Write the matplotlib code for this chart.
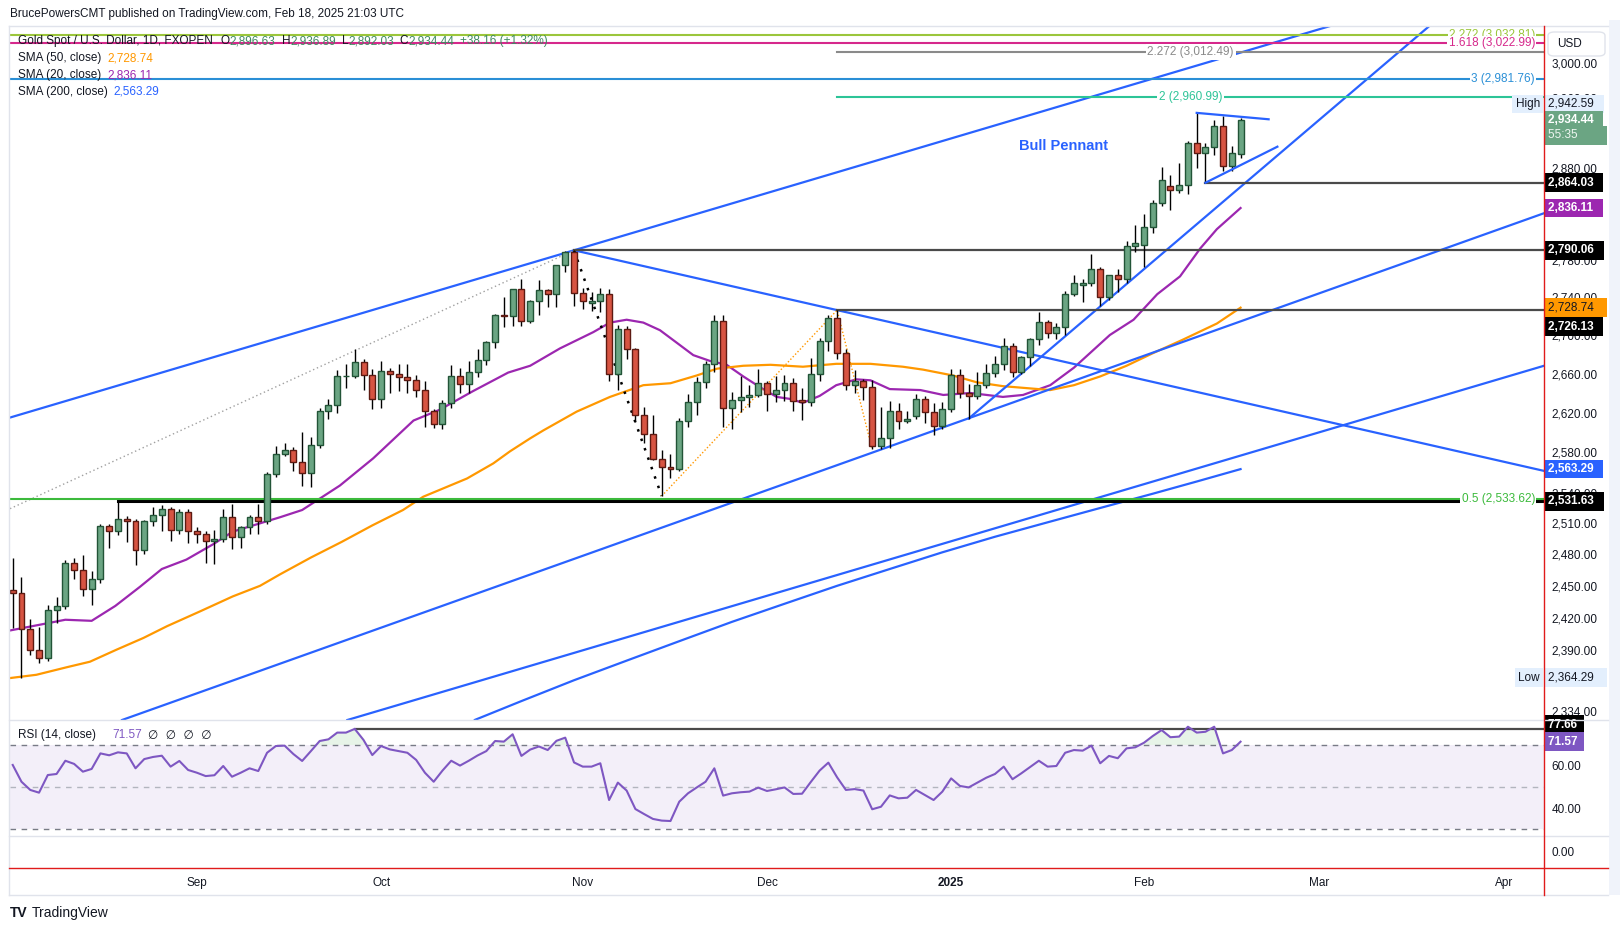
import numpy as np
import pandas as pd
import matplotlib
matplotlib.use("Agg")
import matplotlib.pyplot as plt
from matplotlib.transforms import blended_transform_factory
from matplotlib.ticker import NullLocator, NullFormatter, FuncFormatter
from matplotlib.lines import Line2D
from matplotlib.patches import Rectangle, FancyBboxPatch

plt.rcParams['font.family'] = ['Liberation Sans', 'DejaVu Sans']

# ---------------- data ----------------
# trading calendar (FXOPEN gold, no bar on Dec 25 / Jan 1), extended into the future for the time axis
holidays = pd.to_datetime(['2024-12-25', '2025-01-01'])
dates = pd.bdate_range('2024-08-02', '2025-04-30')
dates = dates[~dates.isin(holidays)]

opens = np.array([
    2446, 2443, 2409, 2390, 2382, 2427, 2431, 2472, 2465, 2447, 2456, 2507, 2503, 2514, 2512, 2484, 2512, 2518, 2524, 2504, 2521,
    2503, 2500, 2493, 2495, 2516, 2497, 2506, 2516, 2512, 2558, 2578, 2582, 2570, 2559, 2587, 2622, 2628, 2657, 2657, 2672, 2658,
    2634, 2663, 2659, 2656, 2653, 2643, 2622, 2608, 2630, 2657, 2649, 2662, 2674, 2693, 2721, 2720, 2748, 2715, 2736, 2747, 2743, 2774, 2788,
    2744, 2734, 2736, 2743, 2659, 2706, 2685, 2618, 2598, 2573, 2565, 2563, 2612, 2631, 2651, 2670, 2715, 2625, 2633, 2636, 2638,
    2650, 2639, 2643, 2650, 2633, 2631, 2660, 2694, 2718, 2681, 2648, 2652, 2646, 2586, 2594, 2622, 2612, 2617, 2634, 2621, 2606,
    2624, 2658, 2640, 2637, 2648, 2661, 2670, 2689, 2662, 2677, 2696, 2714, 2702, 2708, 2743, 2753, 2755, 2770, 2740, 2763, 2759, 2795,
    2796, 2815, 2842, 2860, 2856, 2861, 2908, 2897, 2904, 2928, 2883, 2896.63])
highs = np.array([
    2477, 2458, 2419, 2411, 2432, 2439, 2475, 2477, 2479, 2464, 2509, 2509, 2531.63, 2517, 2514, 2513, 2526, 2528, 2526, 2524, 2524,
    2506, 2503, 2504, 2524, 2529, 2507, 2518, 2529, 2560, 2586, 2589, 2585, 2600, 2595, 2625, 2634, 2664, 2670, 2685, 2675, 2665,
    2673, 2666, 2670, 2670, 2658, 2652, 2624, 2633, 2669, 2666, 2673, 2685, 2694, 2722, 2740, 2749, 2759, 2737, 2758, 2749, 2774, 2789, 2790.06,
    2750, 2745, 2750, 2749, 2710, 2709, 2686, 2626, 2618, 2582, 2578, 2615, 2639, 2656, 2673, 2721, 2721, 2641, 2657, 2648, 2665,
    2652, 2657, 2658, 2655, 2645, 2676, 2697, 2721, 2726.13, 2685, 2664, 2654, 2653, 2626, 2632, 2630, 2622, 2639, 2637, 2630, 2631,
    2665, 2665, 2649, 2662, 2670, 2678, 2697, 2692, 2678, 2697, 2724, 2716, 2713, 2746, 2763, 2759, 2786, 2772, 2764, 2770, 2800, 2817,
    2830, 2845, 2882, 2873, 2886, 2911, 2942.59, 2909, 2935, 2939, 2905, 2936.89])
lows = np.array([
    2410, 2364.29, 2385, 2378, 2380, 2415, 2428, 2456, 2440, 2432, 2453, 2486, 2499, 2492, 2470, 2480, 2507, 2503, 2493, 2500, 2491,
    2491, 2472, 2471, 2492, 2485, 2486, 2500, 2500, 2509, 2555, 2576, 2561, 2547, 2546, 2584, 2614, 2620, 2645, 2655, 2643, 2624,
    2625, 2640, 2642, 2640, 2636, 2605, 2604, 2603, 2625, 2640, 2640, 2656, 2669, 2686, 2708, 2709, 2709, 2713, 2721, 2729, 2729, 2767, 2730,
    2727, 2725, 2724, 2652, 2643, 2675, 2610, 2589, 2572, 2536.7, 2554, 2561, 2605, 2618, 2645, 2662, 2605, 2603, 2621, 2626, 2636,
    2622, 2631, 2632, 2622, 2613, 2627, 2652, 2683, 2675, 2643, 2640, 2633, 2583, 2583, 2584, 2603, 2609, 2614, 2609, 2597, 2603,
    2621, 2635, 2614, 2634, 2645, 2656, 2664, 2656, 2660, 2668, 2690, 2697, 2696, 2700, 2741, 2735, 2752, 2730, 2737, 2745, 2755, 2788,
    2772, 2809, 2838, 2834, 2853, 2852, 2880, 2864.03, 2895, 2877, 2877, 2892.03])
closes = np.array([
    2443, 2409, 2390, 2382, 2427, 2431, 2472, 2465, 2447, 2456, 2507, 2503, 2514, 2512, 2484, 2512, 2518, 2524, 2504, 2521, 2503,
    2500, 2493, 2495, 2516, 2497, 2506, 2516, 2512, 2558, 2578, 2582, 2570, 2559, 2587, 2622, 2628, 2657, 2657, 2672, 2658, 2634,
    2663, 2659, 2656, 2653, 2643, 2622, 2608, 2630, 2657, 2649, 2662, 2674, 2693, 2721, 2720, 2748, 2715, 2736, 2747, 2743, 2774, 2788, 2744,
    2736, 2736, 2743, 2659, 2706, 2685, 2618, 2598, 2573, 2565, 2563, 2612, 2631, 2651, 2670, 2715, 2625, 2633, 2636, 2638, 2650,
    2639, 2643, 2650, 2632, 2631, 2660, 2694, 2718, 2681, 2648, 2652, 2646, 2586, 2594, 2622, 2612, 2614, 2634, 2621, 2606, 2624,
    2658, 2640, 2637, 2648, 2661, 2670, 2689, 2662, 2677, 2696, 2714, 2702, 2708, 2743, 2755, 2755, 2770, 2740, 2763, 2759, 2795, 2798,
    2815, 2842, 2867, 2856, 2861, 2908, 2897, 2904, 2928, 2883, 2897, 2934.44])

rsi = np.array([
    60.5, 52.5, 48.6, 47.3, 55.7, 56.2, 62.5, 61.0, 57.3, 58.6, 66.0, 65.1, 66.5, 66.0, 58.9, 63.3, 64.3, 64.9, 59.7, 62.4, 58.1,
    56.8, 55.2, 55.6, 60.0, 54.9, 56.8, 58.9, 57.6, 66.3, 69.5, 69.7, 65.7, 62.4, 67.1, 71.9, 72.7, 75.9, 75.9, 77.66, 72.4, 65.2,
    69.5, 67.9, 67.1, 66.3, 62.9, 56.8, 52.5, 57.8, 62.5, 60.2, 62.5, 65.0, 67.1, 71.9, 71.6, 75.1, 64.8, 67.8, 69.3, 67.6, 72.0, 73.5, 61.7,
    59.7, 59.7, 61.3, 43.8, 52.1, 48.3, 39.5, 37.1, 34.8, 34.0, 33.8, 43.0, 47.0, 49.8, 52.5, 58.9, 45.9, 47.0, 47.5, 47.8, 49.7,
    48.1, 48.9, 49.8, 46.7, 46.8, 52.4, 57.8, 61.6, 54.6, 48.6, 49.0, 48.3, 39.4, 40.6, 46.0, 44.6, 44.9, 48.6, 46.2, 43.8, 47.8,
    54.1, 50.5, 49.8, 52.1, 54.4, 56.2, 59.7, 53.7, 56.5, 59.5, 62.5, 59.7, 60.0, 66.3, 67.6, 67.3, 69.7, 61.3, 64.8, 63.7, 68.4, 68.9,
    71.1, 74.3, 77.1, 73.7, 74.0, 78.7, 75.9, 76.3, 78.7, 66.0, 67.6, 71.57])

# moving averages (bar position, value)
sma20_x = [-0.3, 3.5, 6, 9, 11.7, 14.5, 17, 19.8, 22.9, 25.1, 27.8, 30.5, 33, 37.3, 41.1, 45.7, 48.7, 52.5, 56.5, 59,
           62.4, 66.2, 68.1, 70, 71.9, 73.8, 75.7, 77.6, 79.5, 81.4, 83.3, 85.2, 87.1, 88.6, 90.1, 92, 93.9, 96.2, 97.8,
           100, 103.5, 106.1, 109.2, 112.9, 115.2, 118.3, 121, 125.1, 127.8, 130.5, 133.1, 135.4, 137.3, 140]
sma20_y = [2408, 2414, 2418, 2417, 2431, 2449, 2466, 2475, 2490, 2502, 2509, 2516, 2523, 2547, 2574, 2612, 2623, 2642, 2661, 2668,
           2686, 2703, 2713, 2716, 2713, 2705, 2692, 2679, 2673, 2669, 2657, 2646, 2636, 2634, 2630, 2637, 2648, 2654, 2653,
           2644, 2643, 2638, 2640, 2636, 2638, 2648, 2666, 2700, 2716, 2743, 2762, 2792, 2813, 2836.11]
sma50_x = [-0.3, 2.7, 6.2, 8.8, 11.8, 14.9, 17.6, 21.4, 25.1, 28.2, 30.5, 34, 37.5, 41, 44.5, 46.8, 51.8, 54.8, 56.7, 59,
           60.5, 64.3, 68.1, 71.9, 75, 78, 80.3, 83.3, 86.4, 90.1, 93.9, 97.8, 101.5, 103.8, 107.2, 109.9, 112.9, 118.3,
           121, 124, 127, 130, 133.4, 137.3, 140]
sma50_y = [2364, 2367, 2374, 2379, 2390, 2401, 2412, 2426, 2440, 2450, 2461, 2477, 2492, 2508, 2523, 2536, 2554, 2569, 2581, 2594,
           2602, 2621, 2636, 2648, 2650, 2658, 2665, 2668, 2669, 2667, 2670, 2670, 2667, 2664, 2658, 2651, 2647, 2643,
           2648, 2657, 2668, 2681, 2695, 2712, 2728.74]
sma200_x = [52.7, 58, 64, 70, 76, 82, 88, 94, 100, 106, 112, 118, 124, 130, 135, 140]
sma200_y = [2326, 2343, 2362, 2380, 2398, 2416, 2433, 2450, 2466, 2482, 2497, 2511, 2525, 2539, 2551, 2563.29]

# horizontal levels (start bar, price)
levels = [(136, 2864.03), (64, 2790.06), (94, 2726.13)]
support_level = (12, 2531.63)
# fib levels: (price, label, colour, start bar, label placement)
fibs = [(3032.81, '2.272 (3,032.81)', '#9bc63b', None, 'right'),
        (3022.99, '1.618 (3,022.99)', '#d6288c', None, 'right'),
        (3012.49, '2.272 (3,012.49)', '#8a8a8a', 94, 'center'),
        (2981.76, '3 (2,981.76)', '#2a8fd6', None, 'right'),
        (2960.99, '2 (2,960.99)', '#2cc497', 94, 'center'),
        (2533.62, '0.5 (2,533.62)', '#3cba3c', None, 'right')]

# trend lines as pairs of anchors (bar, price)
channel_top = [(-0.31, 2615), (64, 2790.06)]
channel_mid = [(12.5, 2326), (174.6, 2830.4)]
channel_low = [(38.2, 2326), (174.6, 2668)]
down_line = [(64, 2790.06), (94, 2726.13)]
steep_line = [(109, 2614), (124, 2730)]
pennant_top = [(135, 2942.59), (143.2, 2935.3)]
pennant_bot = [(136, 2864.03), (144.2, 2904.3)]
gray_dots = [(-0.31, 2524.3), (64, 2790.06)]
black_dots = [(64, 2790.06), (74, 2536.7)]
orange_dots = [(74, 2536.7), (94, 2726.13), (98, 2583)]

price_ticks = [3000, 2960, 2880, 2780, 2740, 2700, 2660, 2620, 2580, 2540, 2510,
               2480, 2450, 2420, 2390, 2334]

# ---------------- figure ----------------
W, H = 1620, 931
fig = plt.figure(figsize=(W / 100, H / 100), dpi=100)
fig.patch.set_facecolor('white')

L, R = 10, 1544
def fy(px):
    return 1 - px / H

ax = fig.add_axes([L / W, fy(720), (R - L) / W, (720 - 26) / H])
ax_rsi = fig.add_axes([L / W, fy(836), (R - L) / W, 116 / H], sharex=ax)
ax_bot = fig.add_axes([L / W, fy(868), (R - L) / W, 32 / H], sharex=ax)

XMAX = 174.6
BLUE = '#2962ff'
DARK = '#131722'
UP, UP_EDGE = '#6ba583', '#225437'
DN, DN_EDGE = '#d75442', '#5d1a12'

for a in (ax, ax_rsi, ax_bot):
    for s in a.spines.values():
        s.set_visible(False)
    a.set_facecolor('white')

# candles
x = np.arange(len(closes))
up = closes >= opens
lo = np.minimum(opens, closes)
hi = np.maximum(opens, closes)
ax.vlines(x, lows, highs, color='black', lw=1, zorder=3)
ax.bar(x[up], hi[up] - lo[up], bottom=lo[up], width=0.68, color=UP, edgecolor=UP_EDGE, lw=1, zorder=4)
ax.bar(x[~up], hi[~up] - lo[~up], bottom=lo[~up], width=0.68, color=DN, edgecolor=DN_EDGE, lw=1, zorder=4)

# moving averages
ax.plot(sma20_x, sma20_y, color='#9c27b0', lw=1.6, zorder=2)
ax.plot(sma50_x, sma50_y, color='#ff9800', lw=1.6, zorder=2)
ax.plot(sma200_x, sma200_y, color=BLUE, lw=1.6, zorder=2)

# trend lines
def ray(a, b, x_end):
    (x1, p1), (x2, p2) = a, b
    p_end = p1 * (p2 / p1) ** ((x_end - x1) / (x2 - x1))
    return [x1, x_end], [p1, p_end]

for pts in (channel_top, channel_mid, channel_low):
    ax.axline(pts[0], pts[1], color=BLUE, lw=1.6, zorder=2)
for pts in (down_line, steep_line):
    xs, ys = ray(pts[0], pts[1], XMAX + 5)
    ax.plot(xs, ys, color=BLUE, lw=1.6, zorder=2)
for pts in (pennant_top, pennant_bot):
    ax.plot(*zip(*pts), color=BLUE, lw=1.6, zorder=5)

ax.plot(*zip(*gray_dots), color='#a0a0a0', lw=1, ls=(0, (1, 2)), zorder=2)
ax.plot(*zip(*black_dots), color='black', lw=1.8, ls=(0, (1, 3)), zorder=2)
ax.plot(*zip(*orange_dots), color='#ff9800', lw=1, ls=(0, (1, 1.5)), zorder=2)

# horizontal levels
for start, p in levels:
    ax.plot([start, XMAX + 5], [p, p], color='#4a4a4a', lw=1.6, zorder=2)
ax.plot([support_level[0], XMAX + 5], [support_level[1]] * 2, color='black', lw=2.2, zorder=2)

lab_right = (1535 - 12.7) / 8.77
for p, label, col, start, place in fibs:
    x0 = -5 if start is None else start
    ax.plot([x0, XMAX + 5], [p, p], color=col, lw=1.5, zorder=2)
    if place == 'right':
        ax.text(lab_right, p, label, color=col, fontsize=8.5, ha='right', va='center', zorder=6,
                bbox=dict(boxstyle='square,pad=0.1', fc='white', ec='none'))
    else:
        ax.text((start + XMAX) / 2, p, label, color=col, fontsize=8.5, ha='center', va='center', zorder=6,
                bbox=dict(boxstyle='square,pad=0.15', fc='white', ec='none'))

ax.text(119.8, 2905, 'Bull Pennant', color=BLUE, fontsize=10.5, fontweight='bold', ha='center', va='center')

ax.set_yscale('log')
ax.set_xlim(-0.31, XMAX)
ax.set_ylim(2325.9, 3043.3)
ax.set_yticks(price_ticks)
ax.yaxis.set_minor_locator(NullLocator())
ax.yaxis.set_minor_formatter(NullFormatter())
ax.yaxis.set_major_formatter(FuncFormatter(lambda v, _: f'{v:,.2f}'))
ax.yaxis.set_ticks_position('right')
ax.tick_params(axis='y', length=0, pad=5.5, labelsize=8.5, labelcolor=DARK)
ax.tick_params(axis='x', bottom=False, labelbottom=False)

# price tags on the scale
AX_X = (1548 - L) / (R - L)
def tag(a, value, text, fc, tc='white', dy=0, weight='bold', xpos=AX_X, ha='left'):
    tr = blended_transform_factory(a.transAxes, a.transData)
    a.annotate(text, xy=(xpos, value), xycoords=tr, xytext=(0, dy), textcoords='offset points',
               ha=ha, va='center', fontsize=8.5, color=tc, fontweight=weight, annotation_clip=False,
               bbox=dict(boxstyle='square,pad=0.28', fc=fc, ec='none'), zorder=10)

tag(ax, 2942.59, '2,942.59  ', '#e3effd', DARK, dy=6.5, weight='normal')
tag(ax, 2942.59, 'High', '#e3effd', DARK, dy=6.5, weight='normal', xpos=(1540 - L) / (R - L), ha='right')
tag(ax, 2934.44, '2,934.44  ', UP, 'white')
tag(ax, 2934.44, '55:35        ', UP, '#eef6f0', dy=-11, weight='normal')
tag(ax, 2864.03, '2,864.03  ', 'black')
tag(ax, 2836.11, '2,836.11  ', '#9c27b0')
tag(ax, 2790.06, '2,790.06  ', 'black')
tag(ax, 2728.74, '2,728.74   ', '#ff9800', DARK, weight='normal')
tag(ax, 2726.13, '2,726.13  ', 'black', dy=-12)
tag(ax, 2563.29, '2,563.29  ', BLUE)
tag(ax, 2531.63, '2,531.63  ', 'black')
tag(ax, 2364.29, '2,364.29   ', '#e3effd', DARK, weight='normal')
tag(ax, 2364.29, 'Low', '#e3effd', DARK, weight='normal', xpos=(1540 - L) / (R - L), ha='right')

# ---------------- RSI pane ----------------
ax_rsi.axhspan(30, 70, color='#7e57c2', alpha=0.09, lw=0)
ax_rsi.axhline(70, color='#787b86', lw=1, ls=(0, (4, 4)))
ax_rsi.axhline(50, color='#b2b5be', lw=1, ls=(0, (4, 4)))
ax_rsi.axhline(30, color='#787b86', lw=1, ls=(0, (4, 4)))
ax_rsi.fill_between(x, rsi, 70, where=rsi > 70, interpolate=True, color='#4caf50', alpha=0.13, lw=0)
ax_rsi.plot([39, XMAX + 5], [77.66, 77.66], color='#4a4a4a', lw=1.6)
ax_rsi.plot(x, rsi, color='#7e57c2', lw=1.5)
ax_rsi.set_ylim(26.67, 81.9)
ax_rsi.set_yticks([60, 40])
ax_rsi.yaxis.set_major_formatter(FuncFormatter(lambda v, _: f'{v:.2f}'))
ax_rsi.yaxis.set_ticks_position('right')
ax_rsi.tick_params(axis='y', length=0, pad=5.5, labelsize=8.5, labelcolor=DARK)
ax_rsi.tick_params(axis='x', bottom=False, labelbottom=False)
tag(ax_rsi, 77.66, '77.66 ', 'black', dy=3)
tag(ax_rsi, 71.57, '71.57 ', '#7e57c2')
ax_rsi.text(0.005, 0.87, 'RSI (14, close)', transform=ax_rsi.transAxes, fontsize=8.5, color=DARK, va='center')
ax_rsi.text(0.067, 0.87, '71.57', transform=ax_rsi.transAxes, fontsize=8.5, color='#7e57c2', va='center')
ax_rsi.text(0.09, 0.87, '\u2205  \u2205  \u2205  \u2205', transform=ax_rsi.transAxes, fontsize=8.5,
            color=DARK, va='center', family='DejaVu Sans')

# ---------------- time axis ----------------
month_starts = [i for i in range(1, len(dates)) if dates[i].month != dates[i - 1].month]
month_labels = [str(dates[i].year) if dates[i].month == 1 else dates[i].strftime('%b') for i in month_starts]
ax_bot.set_yticks([])
ax_bot.set_xticks(month_starts)
ax_bot.set_xticklabels(month_labels)
for t in ax_bot.get_xticklabels():
    if t.get_text().isdigit():
        t.set_fontweight('bold')
ax_bot.tick_params(axis='x', length=0, pad=6.5, labelsize=8.5, labelcolor=DARK)
ax_bot.set_xlim(-0.31, XMAX)
fig.text(1552 / W, fy(853), '0.00', fontsize=8.5, color=DARK, va='center')

# ---------------- frame ----------------
def fline(xs, ys, **kw):
    fig.add_artist(Line2D([v / W for v in xs], [fy(v) for v in ys], transform=fig.transFigure, **kw))

fline([9, 1608], [26, 26], color='#e0e3eb', lw=1)
fline([9, 9], [26, 895], color='#e0e3eb', lw=1)
fline([9, 1608], [895, 895], color='#e0e3eb', lw=1)
fline([9, 1608], [720, 720], color='#e0e3eb', lw=1)
fline([9, 1608], [836, 836], color='#e0e3eb', lw=1)
fline([R, R], [26, 895], color='#e01b1b', lw=1)
fline([9, 1608], [868, 868], color='#e01b1b', lw=1)
fig.add_artist(Rectangle((1609 / W, fy(895)), 11 / W, (895 - 20) / H, transform=fig.transFigure,
                         fc='#f0f3fa', ec='none'))
fig.add_artist(FancyBboxPatch((1548 / W, fy(56)), 57 / W, 24 / H, transform=fig.transFigure,
                              boxstyle='round,pad=0,rounding_size=0.004', fc='white', ec='#e0e3eb', lw=1, zorder=5))
fig.text(1557 / W, fy(44), 'USD', fontsize=8.5, color=DARK, va='center', zorder=6)

# ---------------- header ----------------
renderer = fig.canvas.get_renderer()
def text_run(x_px, y_px, pieces, size=8.5, weights=None):
    xp = x_px
    for k, (s, col, gap) in enumerate(pieces):
        w = 'normal' if weights is None else weights[k]
        t = fig.text(xp / W, fy(y_px), s, color=col, fontsize=size, va='center', ha='left', fontweight=w)
        xp += t.get_window_extent(renderer=renderer).width + gap

GREEN_TXT = '#3f8a62'
fig.text(10 / W, fy(14.5), 'BrucePowersCMT published on TradingView.com, Feb 18, 2025 21:03 UTC',
         fontsize=8.5, color=DARK, va='center')
text_run(18, 41, [('Gold Spot / U.S. Dollar, 1D, FXOPEN', DARK, 8), ('O', DARK, 0), ('2,896.63', GREEN_TXT, 6),
                  ('H', DARK, 0), ('2,936.89', GREEN_TXT, 6), ('L', DARK, 0), ('2,892.03', GREEN_TXT, 6),
                  ('C', DARK, 0), ('2,934.44', GREEN_TXT, 6), ('+38.16 (+1.32%)', GREEN_TXT, 0)])
text_run(18, 58.5, [('SMA (50, close)', DARK, 6), ('2,728.74', '#ff9800', 0)])
text_run(18, 75, [('SMA (20, close)', DARK, 6), ('2,836.11', '#9c27b0', 0)])
text_run(18, 92, [('SMA (200, close)', DARK, 6), ('2,563.29', BLUE, 0)])

text_run(10, 913, [('TV', DARK, 4), ('TradingView', DARK, 0)], size=10, weights=['heavy', 'normal'])

fig.savefig('out.png', dpi=100, facecolor='white')
